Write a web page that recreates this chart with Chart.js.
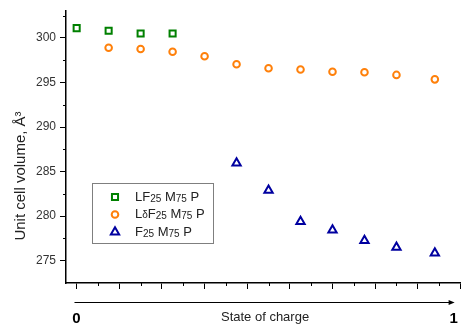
<!DOCTYPE html>
<html>
<head>
<meta charset="utf-8">
<script src="https://cdn.jsdelivr.net/npm/chart.js@4.4.0/dist/chart.umd.min.js"></script>
<style>
  html, body { margin: 0; padding: 0; background: #fff; }
</style>
</head>
<body>
<canvas id="chart" width="472" height="327"></canvas>
<script>
// x positions are in tick units along the charge axis (0 = first tick)
const lfX = [0, 1.5, 3, 4.5];
const lfY = [301.1, 300.8, 300.5, 300.5];

const ldfX = [1.5, 3, 4.5, 6, 7.5, 9, 10.5, 12, 13.5, 15, 16.8];
const ldfY = [298.9, 298.75, 298.45, 297.95, 297.05, 296.6, 296.45, 296.2, 296.15, 295.85, 295.35];

const fX = [7.5, 9, 10.5, 12, 13.5, 15, 16.8];
const fY = [285.95, 282.9, 279.4, 278.45, 277.25, 276.5, 275.85];

const seriesNames = ["LF₂₅ M₇₅ P", "LδF₂₅ M₇₅ P", "F₂₅ M₇₅ P"];

const yTicks = [275, 280, 285, 290, 295, 300];
const yMinor = [277.5, 282.5, 287.5, 292.5, 297.5, 302.5];
const xTicks = [0, 2, 4, 6, 8, 10, 12, 14, 16, 18];
const xMinor = [1, 3, 5, 7, 9, 11, 13, 15, 17];
const socTicks = [0, 0.5, 1];
const socLabels = ["0", "State of charge", "1"];
const yTitle = "Unit cell volume, Å³";

Chart.defaults.font.family = "'Liberation Sans', Arial, sans-serif";
Chart.defaults.color = "#222";

function pts(xs, ys) {
  return xs.map((x, i) => ({ x: x, y: ys[i] }));
}

// draw a label where subscript digits and δ are set smaller
function drawRich(ctx, str, x, y) {
  const subs = "₀₁₂₃₄₅₆₇₈₉";
  ctx.textBaseline = "middle";
  ctx.textAlign = "left";
  for (const ch of str) {
    let t = ch, size = 13, dy = 0;
    const k = subs.indexOf(ch);
    if (k >= 0) { t = String(k); size = 10; dy = 2; }
    else if (ch === "δ") { size = 10; dy = 1; }
    ctx.font = size + "px 'Liberation Sans', Arial, sans-serif";
    ctx.fillText(t, x, y + dy);
    x += ctx.measureText(t).width;
  }
}

const extras = {
  id: "extras",
  afterDraw(chart) {
    const ctx = chart.ctx;
    const x = chart.scales.x, y = chart.scales.y, soc = chart.scales.soc;
    ctx.save();

    // minor ticks
    ctx.strokeStyle = "#000";
    ctx.lineWidth = 1;
    ctx.beginPath();
    xMinor.forEach(v => {
      const px = Math.round(x.getPixelForValue(v)) + 0.5;
      ctx.moveTo(px, x.top);
      ctx.lineTo(px, x.top + 3);
    });
    yMinor.forEach(v => {
      const py = Math.round(y.getPixelForValue(v)) + 0.5;
      ctx.moveTo(y.right - 3, py);
      ctx.lineTo(y.right, py);
    });
    ctx.stroke();

    // state of charge arrow
    const ay = soc.top + 6.5;
    const a0 = soc.getPixelForValue(0) - 2;
    const a1 = soc.getPixelForValue(1) + 1;
    ctx.beginPath();
    ctx.moveTo(a0, ay);
    ctx.lineTo(a1 - 4, ay);
    ctx.stroke();
    ctx.fillStyle = "#000";
    ctx.beginPath();
    ctx.moveTo(a1, ay);
    ctx.lineTo(a1 - 6, ay - 2.5);
    ctx.lineTo(a1 - 6, ay + 2.5);
    ctx.closePath();
    ctx.fill();

    // y title
    ctx.save();
    ctx.translate(21, 176);
    ctx.rotate(-Math.PI / 2);
    ctx.fillStyle = "#222";
    ctx.font = "15px 'Liberation Sans', Arial, sans-serif";
    ctx.textAlign = "center";
    ctx.textBaseline = "middle";
    ctx.fillText(yTitle, 0, 0);
    ctx.restore();

    // legend box
    ctx.strokeStyle = "#7f7f7f";
    ctx.lineWidth = 1;
    ctx.strokeRect(92.5, 183.5, 121, 60);
    chart.data.datasets.forEach((ds, i) => {
      const ry = 197 + i * 17.5;
      ctx.strokeStyle = ds.borderColor;
      ctx.fillStyle = "#fff";
      ctx.lineWidth = ds.pointBorderWidth;
      Chart.helpers.drawPoint(ctx, {
        pointStyle: ds.pointStyle,
        radius: ds.pointRadius,
        rotation: 0,
        borderWidth: ds.pointBorderWidth
      }, 115, ry);
      ctx.fillStyle = "#222";
      drawRich(ctx, seriesNames[i], 135, ry);
    });

    ctx.restore();
  }
};

new Chart(document.getElementById("chart"), {
  type: "scatter",
  data: {
    datasets: [
      {
        label: seriesNames[0],
        data: pts(lfX, lfY),
        pointStyle: "rect",
        pointRadius: 4.3,
        pointBorderWidth: 2,
        borderColor: "#008000",
        backgroundColor: "#fff"
      },
      {
        label: seriesNames[1],
        data: pts(ldfX, ldfY),
        pointStyle: "circle",
        pointRadius: 3.3,
        pointBorderWidth: 2,
        borderColor: "#ff800a",
        backgroundColor: "#fff"
      },
      {
        label: seriesNames[2],
        data: pts(fX, fY),
        pointStyle: "triangle",
        pointRadius: 4.8,
        pointBorderWidth: 2,
        borderColor: "#0000a0",
        backgroundColor: "#fff"
      }
    ]
  },
  options: {
    responsive: false,
    animation: false,
    layout: { padding: { top: 10, right: 4, left: 0, bottom: 0 } },
    plugins: {
      legend: { display: false },
      tooltip: { enabled: false }
    },
    scales: {
      x: {
        type: "linear",
        position: "bottom",
        weight: 0,
        min: -0.5,
        max: 18,
        afterBuildTicks: (s) => { s.ticks = xTicks.map(v => ({ value: v })); },
        afterFit: (s) => { s.height = 13; },
        ticks: { display: false },
        grid: {
          drawOnChartArea: false,
          tickLength: 6,
          tickColor: "#000",
          tickWidth: 1
        },
        border: { color: "#000", width: 1.5 }
      },
      soc: {
        type: "linear",
        position: "bottom",
        weight: 1,
        min: -0.0278,
        max: 1.018,
        afterBuildTicks: (s) => { s.ticks = socTicks.map(v => ({ value: v })); },
        afterFit: (s) => { s.height = 31; },
        ticks: {
          autoSkip: false,
          maxRotation: 0,
          minRotation: 0,
          padding: 14,
          color: (c) => c.index === 1 ? "#222" : "#000",
          font: (c) => c.index === 1 ? { size: 13 } : { size: 15, weight: "bold" },
          callback: (v, i) => socLabels[i]
        },
        grid: { display: false, drawTicks: false },
        border: { display: false }
      },
      y: {
        type: "linear",
        position: "left",
        min: 272.5,
        max: 303,
        afterBuildTicks: (s) => { s.ticks = yTicks.map(v => ({ value: v })); },
        afterFit: (s) => { s.width = 66; },
        ticks: {
          padding: 4,
          color: "#333",
          font: { size: 12 }
        },
        grid: {
          drawOnChartArea: false,
          tickLength: 6,
          tickColor: "#000",
          tickWidth: 1
        },
        border: { color: "#000", width: 1.5 }
      }
    }
  },
  plugins: [extras]
});
</script>
</body>
</html>
